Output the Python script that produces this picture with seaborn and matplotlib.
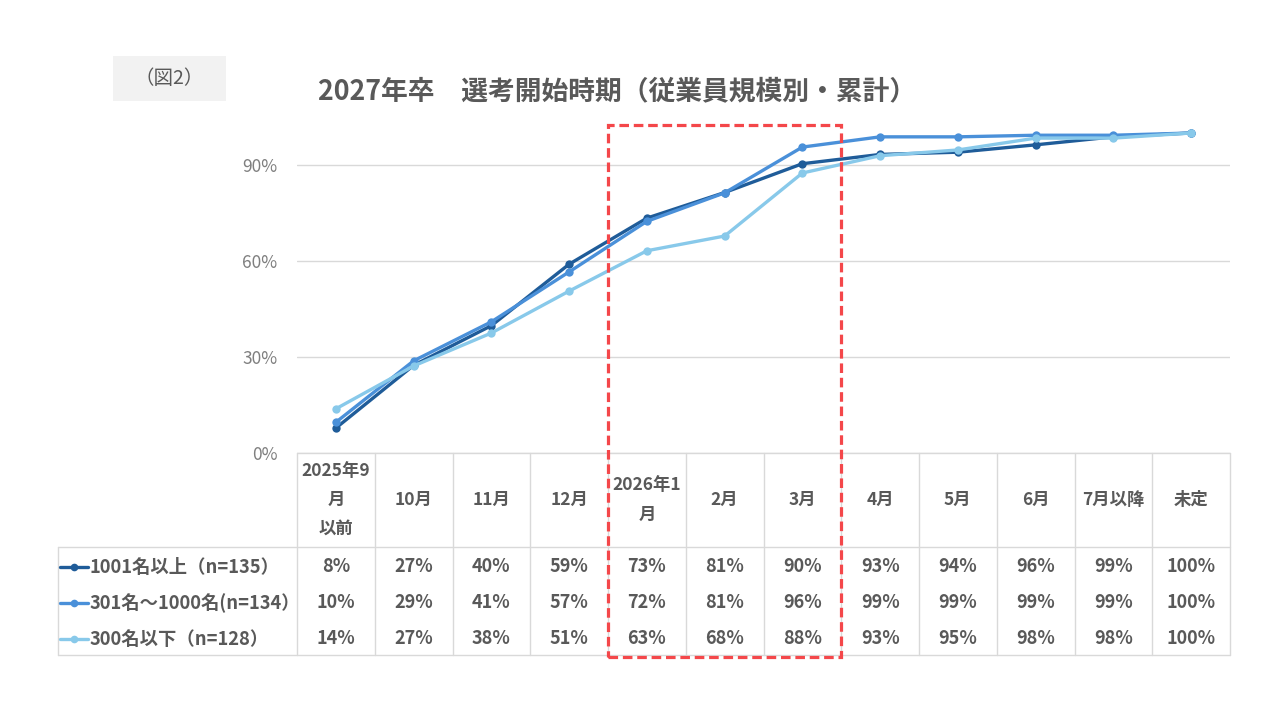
import numpy as np
import pandas as pd
import matplotlib
matplotlib.use("Agg")
import matplotlib.pyplot as plt
import matplotlib.transforms as mtransforms
from matplotlib.patches import Rectangle
from matplotlib.lines import Line2D
import seaborn as sns

# Data
months = ["2025年9\n月\n以前", "10月", "11月", "12月", "2026年1\n月", "2月", "3月",
          "4月", "5月", "6月", "7月以降", "未定"]
series_names = ["1001名以上（n=135）", "301名～1000名(n=134）", "300名以下（n=128）"]
large = [7.8, 27.4, 39.8, 59.0, 73.4, 81.4, 90.4, 93.3, 94.0, 96.3, 98.8, 100.0]
mid = [9.6, 28.8, 41.0, 56.6, 72.4, 81.3, 95.6, 98.8, 98.8, 99.3, 99.3, 100.0]
small = [13.8, 27.2, 37.5, 50.6, 63.2, 67.8, 87.5, 92.9, 94.7, 98.4, 98.4, 100.0]
colors = ["#1F5C99", "#4A90D9", "#88C9EA"]
title = "2027年卒　選考開始時期（従業員規模別・累計）"
fig_label = "（図2）"

values = [large, mid, small]
df = pd.DataFrame({
    "x": np.tile(np.arange(len(months)), len(series_names)),
    "value": np.concatenate(values) / 100,
    "series": np.repeat(series_names, len(months)),
})

sns.set_theme(style="white")
plt.rcParams["font.family"] = ["Noto Sans CJK JP", "DejaVu Sans"]

W, H = 1280, 720
fig = plt.figure(figsize=(12.8, 7.2), dpi=100)


def fx(px):
    return px / W


def fy(py):
    return 1 - py / H


# plot area in pixels
left, right, top, bottom = 297, 1230, 133, 453
ax = fig.add_axes([fx(left), fy(bottom), fx(right - left), (bottom - top) / H])

sns.lineplot(data=df, x="x", y="value", hue="series", palette=colors,
             hue_order=series_names, marker="o", markersize=6, markeredgewidth=0,
             linewidth=2.4, legend=False, ax=ax, clip_on=False)

ax.set_xlim(-0.5, len(months) - 0.5)
ax.set_ylim(0, 1.0)
ax.set_yticks([0, 0.3, 0.6, 0.9])
ax.set_yticklabels(["0%", "30%", "60%", "90%"], color="#7F7F7F", fontsize=12.5)
ax.tick_params(axis="y", length=0, pad=14)
ax.set_xticks([])
ax.set_xlabel("")
ax.set_ylabel("")
ax.grid(axis="y", color="#D9D9D9", linewidth=1)
for s in ax.spines.values():
    s.set_visible(False)

# data table under the axis
trans = mtransforms.blended_transform_factory(ax.transData, ax.transAxes)
unit = (bottom - top)
header_bottom = -(547 - bottom) / unit
row_edges = [header_bottom - i * 36 / unit for i in range(4)]
label_left = -0.5 - (left - 58) / ((right - left) / len(months))
grid_kw = dict(color="#D9D9D9", linewidth=1, transform=trans, clip_on=False)
text_color = "#595959"

# horizontal lines
ax.add_line(Line2D([-0.5, len(months) - 0.5], [0, 0], **grid_kw))
for yy in [row_edges[0], row_edges[-1]]:
    ax.add_line(Line2D([label_left, len(months) - 0.5], [yy, yy], **grid_kw))
# vertical lines
for i in range(len(months) + 1):
    ax.add_line(Line2D([i - 0.5, i - 0.5], [0, row_edges[-1]], **grid_kw))
ax.add_line(Line2D([label_left, label_left], [row_edges[0], row_edges[-1]], **grid_kw))

# header text
for i, m in enumerate(months):
    ax.text(i, header_bottom / 2, m, transform=trans, ha="center", va="center",
            fontsize=12.5, fontweight="bold", color=text_color, linespacing=1.8)

# rows
nudge = -2 / unit
for r, (name, vals, c) in enumerate(zip(series_names, values, colors)):
    ymid = (row_edges[r] + row_edges[r + 1]) / 2 + nudge
    for i, v in enumerate(vals):
        ax.text(i, ymid, f"{round(v)}%", transform=trans, ha="center", va="center",
                fontsize=13, fontweight="bold", color=text_color)
    ax.add_line(Line2D([label_left + 0.03, label_left + 0.38], [ymid, ymid], color=c,
                       linewidth=2.4, transform=trans, clip_on=False))
    ax.plot([label_left + 0.205], [ymid], marker="o", markersize=5.5, color=c,
            markeredgewidth=0, transform=trans, clip_on=False)
    ax.text(label_left + 0.4, ymid, name, transform=trans, ha="left", va="center",
            fontsize=13.2, fontweight="bold", color=text_color)

# red dashed highlight around Jan-Mar
hl_top = (bottom - 125) / unit
hl_bottom = -(657 - bottom) / unit
ax.add_patch(Rectangle((3.5, hl_bottom), 3, hl_top - hl_bottom, transform=trans,
                       fill=False, edgecolor="#F4474A", linewidth=2.3,
                       linestyle=(0, (3, 1.5)), clip_on=False, zorder=5))

# title and figure label
fig.text(fx(617), fy(91), title, ha="center", va="center", fontsize=19.3,
         fontweight="bold", color=text_color)
fig.patches.append(Rectangle((fx(113), fy(101)), fx(113), (101 - 56) / H,
                             transform=fig.transFigure, facecolor="#F2F2F2",
                             edgecolor="none"))
fig.text(fx(169), fy(78), fig_label, ha="center", va="center", fontsize=14,
         color=text_color)

plt.savefig("out.png", dpi=100)
